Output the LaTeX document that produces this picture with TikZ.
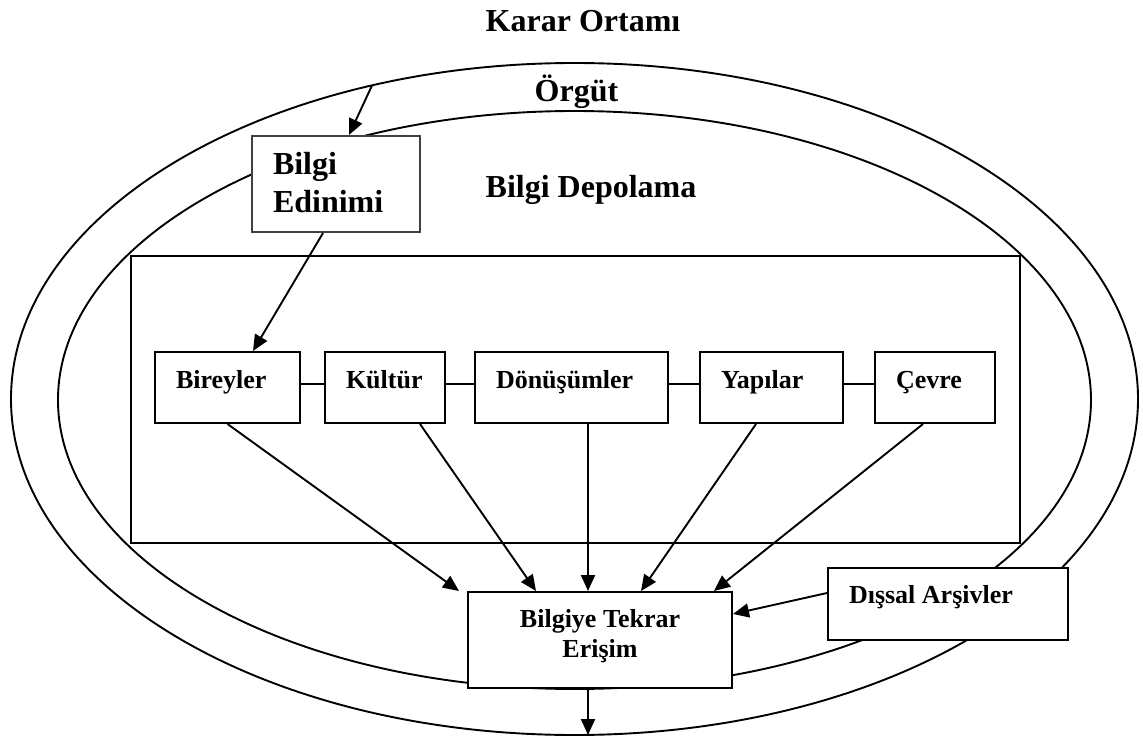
\documentclass[tikz,border=0pt]{standalone}
\usepackage{fontspec}
\setmainfont{Liberation Serif}
\usetikzlibrary{arrows.meta}

\begin{document}
\begin{tikzpicture}[x=1pt,y=-1pt,
  hat/.style={line width=1.9pt},
  ok/.style={hat,-{Triangle[length=16pt,width=14pt]}},
  kutu/.style={draw,line width=2pt,fill=white,inner sep=0pt,
    font=\bfseries\fontsize{26}{30}\selectfont},
  satir/.style={kutu,anchor=north west,minimum height=71pt,inner xsep=21pt,
    text height=36pt,text depth=35pt},
  baslik/.style={font=\bfseries\fontsize{32}{38}\selectfont,anchor=base,inner sep=0pt}]

\useasboundingbox (0,0) rectangle (1143,738);

% environment rings
\draw[hat] (574.5,399) ellipse [x radius=563.5pt, y radius=336pt];
\draw[hat] (574.5,400) ellipse [x radius=516.5pt, y radius=289pt];

% storage area
\node[draw,line width=2pt,anchor=north west,minimum width=889pt,minimum height=287pt,inner sep=0pt]
  (depolama) at (130,255) {};

% titles
\node[baslik] (karar) at (583,32) {Karar Ortamı};
\node[baslik] (orgut) at (576.5,102) {Örgüt};
\node[baslik] (depo) at (591,198) {Bilgi Depolama};

% acquisition
\node[kutu,draw=black!75,font=\bfseries\fontsize{32}{38}\selectfont,anchor=north west,
  inner xsep=21pt,text height=39pt,text depth=57pt] (edinimi) at (251,135)
  {\begin{tabular}[t]{@{}l@{}}\makebox[126pt][l]{Bilgi}\\Edinimi\end{tabular}};

% storage bins
\node[satir] (bireyler) at (154,351) {\makebox[103pt][l]{Bireyler}};
\node[satir] (kultur)   at (324,351) {\makebox[78pt][l]{Kültür}};
\node[satir] (donusum)  at (474,351) {\makebox[151pt][l]{Dönüşümler}};
\node[satir] (yapilar)  at (699,351) {\makebox[101pt][l]{Yapılar}};
\node[satir] (cevre)    at (874,351) {\makebox[78pt][l]{Çevre}};

% retrieval
\node[kutu,anchor=north west,minimum width=264pt,text height=35pt,text depth=61pt]
  (erisim) at (467,591)
  {\begin{tabular}[t]{@{}c@{}}Bilgiye Tekrar\\Erişim\end{tabular}};

% external archives
\node[kutu,anchor=north west,inner xsep=21pt,text height=35pt,text depth=37pt]
  (dissal) at (827,567) {\makebox[198pt][l]{Dışsal Arşivler}};

\coordinate (girdi) at (372,85.5);
\coordinate (erisimalt) at ([xshift=-12pt]erisim.south);
\coordinate (cikti) at (erisimalt |- 0,735);

% connectors
\draw[ok] (girdi) -- ([xshift=13pt]edinimi.north);
\draw[ok] ([xshift=-13pt]edinimi.south) -- ([xshift=25.5pt]bireyler.north);

\draw[hat] ([yshift=3.5pt]bireyler.east) -- ([yshift=3.5pt]kultur.west);
\draw[hat] ([yshift=3.5pt]kultur.east) -- ([yshift=3.5pt]donusum.west);
\draw[hat] ([yshift=3.5pt]donusum.east) -- ([yshift=3.5pt]yapilar.west);
\draw[hat] ([yshift=3.5pt]yapilar.east) -- ([yshift=3.5pt]cevre.west);

\draw[ok] (bireyler.south) -- ([xshift=-141pt]erisim.north);
\draw[ok] ([xshift=35pt]kultur.south) -- ([xshift=-64pt]erisim.north);
\draw[ok] ([xshift=16.5pt]donusum.south) -- ([xshift=-12pt]erisim.north);
\draw[ok] ([xshift=-15.5pt]yapilar.south) -- ([xshift=41pt]erisim.north);
\draw[ok] ([xshift=-12pt]cevre.south) -- ([xshift=114pt]erisim.north);
\draw[ok] ([yshift=11pt]dissal.west) -- ([yshift=26pt]erisim.east);
\draw[ok] (erisimalt) -- (cikti);

\end{tikzpicture}
\end{document}
